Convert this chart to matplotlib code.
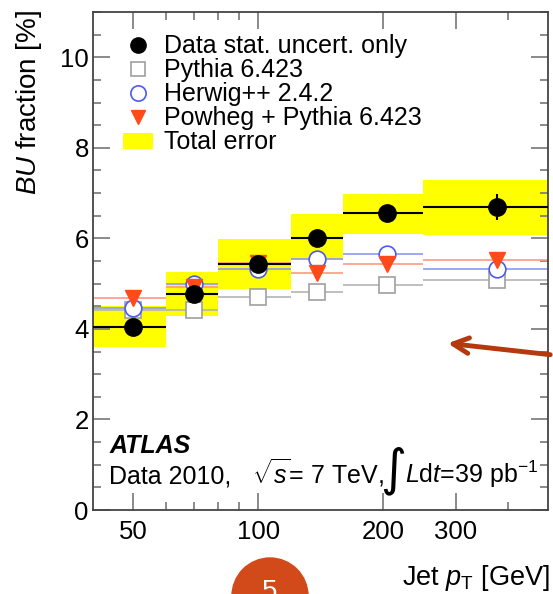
import numpy as np
import matplotlib
matplotlib.use("Agg")
import matplotlib.pyplot as plt
from matplotlib.patches import Rectangle, Ellipse
from matplotlib.lines import Line2D
from matplotlib.ticker import FixedLocator, FixedFormatter, NullFormatter, MultipleLocator

plt.rcParams['font.family'] = ['Liberation Sans', 'DejaVu Sans']
plt.rcParams['mathtext.fontset'] = 'custom'
plt.rcParams['mathtext.rm'] = 'Liberation Sans'
plt.rcParams['mathtext.it'] = 'Liberation Sans:italic'
plt.rcParams['mathtext.bf'] = 'Liberation Sans:bold'

# jet pT bins [GeV]
bin_edges = [40, 60, 80, 120, 160, 250, 500]
data_x = [50, 70, 100, 139, 204, 376]
data_y = [4.04, 4.77, 5.43, 6.00, 6.55, 6.69]
data_stat = [0.08, 0.08, 0.08, 0.1, 0.12, 0.28]
tot_lo = [3.60, 4.28, 4.88, 5.52, 6.09, 6.07]
tot_hi = [4.50, 5.25, 5.98, 6.53, 6.98, 7.28]
pythia = [4.41, 4.41, 4.70, 4.81, 4.97, 5.08]
herwig = [4.46, 4.99, 5.32, 5.54, 5.65, 5.32]
powheg = [4.68, 4.92, 5.45, 5.23, 5.43, 5.52]

W, H = 553, 594
fig = plt.figure(figsize=(W/100, H/100), dpi=100)
ax = fig.add_axes([93/W, 84/H, 455/W, 498/H])

lo = bin_edges[:-1]
hi = bin_edges[1:]

# total error boxes
for i in range(len(data_x)):
    ax.add_patch(Rectangle((lo[i], tot_lo[i]), hi[i]-lo[i], tot_hi[i]-tot_lo[i],
                           facecolor='#ffff00', edgecolor='none', zorder=1))

ax.hlines(pythia, lo, hi, colors='#b4b4b4', lw=1.2, zorder=2)
ax.hlines(herwig, lo, hi, colors='#8c9af5', lw=1.2, zorder=2)
ax.hlines(powheg, lo, hi, colors='#ff9a80', lw=1.2, zorder=2)

ax.plot(data_x, pythia, 's', ms=11.5, mfc='white', mec='#a0a0a0', mew=1.2, zorder=3)
ax.plot(data_x, herwig, 'o', ms=12, mfc='white', mec='#4a5cf0', mew=1.2, zorder=4)
ax.plot(data_x, powheg, 'v', ms=11.5, color='#ff4a1a', zorder=5)

ax.hlines(data_y, lo, hi, colors='black', lw=1.5, zorder=6)
ax.errorbar(data_x, data_y, yerr=data_stat, fmt='o', ms=12.5, color='black',
            elinewidth=1.5, capsize=0, zorder=7)

ax.set_xscale('log')
ax.set_xlim(40, 500)
ax.set_ylim(0, 11)

ax.xaxis.set_major_locator(FixedLocator([50, 100, 200, 300]))
ax.xaxis.set_minor_locator(FixedLocator([60, 70, 80, 90, 400]))
ax.xaxis.set_major_formatter(FixedFormatter(['50', '100', '200', '300']))
ax.xaxis.set_minor_formatter(NullFormatter())
ax.yaxis.set_major_locator(MultipleLocator(2))
ax.yaxis.set_minor_locator(MultipleLocator(0.5))

ax.tick_params(which='both', direction='in', top=True, right=True, labelsize=18.5,
               color='#777777', width=1.2)
ax.tick_params(which='major', length=12)
ax.tick_params(axis='y', which='major', pad=3)
ax.tick_params(axis='x', which='major', pad=7)
ax.tick_params(which='minor', length=6)
for s in ax.spines.values():
    s.set_color('#444444')
    s.set_linewidth(1.3)

fig.text(29/W, 1-10/H, r'$BU$ fraction [%]', fontsize=20, rotation=90,
         ha='center', va='top')
fig.text(550/W, 1-585/H, r'Jet $p_{\rm T}$ [GeV]', fontsize=19.5,
         ha='right', va='baseline')

handles = [
    Line2D([], [], ls='none', marker='o', ms=11, color='black'),
    Line2D([], [], ls='none', marker='s', ms=10.5, mfc='white', mec='#a0a0a0', mew=1.2),
    Line2D([], [], ls='none', marker='o', ms=11, mfc='white', mec='#4a5cf0', mew=1.2),
    Line2D([], [], ls='none', marker='v', ms=10.5, color='#ff4a1a'),
    Rectangle((0, 0), 1, 1, facecolor='#ffff00', edgecolor='none'),
]
labels = ['Data stat. uncert. only', 'Pythia 6.423', 'Herwig++ 2.4.2',
          'Powheg + Pythia 6.423', 'Total error']
ax.legend(handles, labels, loc='upper left', bbox_to_anchor=(0.066, 0.955), frameon=False,
          fontsize=18, handlelength=1.2, handleheight=0.6, handletextpad=0.42,
          labelspacing=0.0, borderaxespad=0, borderpad=0)

# ATLAS label and luminosity line, placed in axes fractions
ax.text(0.037, 0.114, 'ATLAS', transform=ax.transAxes, fontsize=18,
        fontweight='bold', fontstyle='italic', va='baseline')
ax.text(0.035, 0.054, 'Data 2010,', transform=ax.transAxes, fontsize=18, va='baseline')
ax.text(0.350, 0.054, r'$\sqrt{s}$= 7 TeV,', transform=ax.transAxes, fontsize=18,
        va='baseline')
ax.text(0.632, 0.078, '\u222b', transform=ax.transAxes, fontsize=36, va='center',
        family='DejaVu Sans')
ax.text(0.686, 0.054, r'$L$d$t$=39 pb$^{-1}$', transform=ax.transAxes, fontsize=18,
        va='baseline')

# slide decorations
ax.annotate('', xy=(445/W, 1-343/H), xytext=(1.0, 1-355/H),
            xycoords='figure fraction', textcoords='figure fraction',
            arrowprops=dict(arrowstyle='->', color='#b4390f', lw=3.5,
                            mutation_scale=28))
fig.add_artist(Ellipse((270/W, 1-596/H), 76/W, 76/H,
                       transform=fig.transFigure, color='#d24a1a'))
fig.text(270/W, 1-579/H, '5', color='white', fontsize=20, ha='center', va='top')

fig.savefig('out.png', dpi=100)
